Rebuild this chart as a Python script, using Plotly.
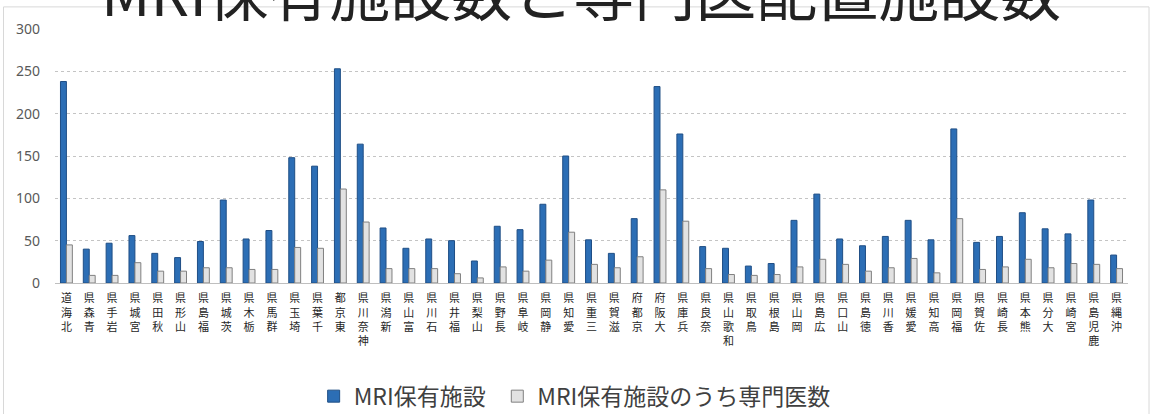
import plotly.graph_objects as go

prefectures = ["北海道", "青森県", "岩手県", "宮城県", "秋田県", "山形県", "福島県", "茨城県", "栃木県", "群馬県",
               "埼玉県", "千葉県", "東京都", "神奈川県", "新潟県", "富山県", "石川県", "福井県", "山梨県", "長野県",
               "岐阜県", "静岡県", "愛知県", "三重県", "滋賀県", "京都府", "大阪府", "兵庫県", "奈良県", "和歌山県",
               "鳥取県", "島根県", "岡山県", "広島県", "山口県", "徳島県", "香川県", "愛媛県", "高知県", "福岡県",
               "佐賀県", "長崎県", "熊本県", "大分県", "宮崎県", "鹿児島県", "沖縄県"]

mri_facilities = [238, 40, 47, 56, 35, 30, 49, 98, 52, 62,
                  148, 138, 253, 164, 65, 41, 52, 50, 26, 67,
                  63, 93, 150, 51, 35, 76, 232, 176, 43, 41,
                  20, 23, 74, 105, 52, 44, 55, 74, 51, 182,
                  48, 55, 83, 64, 58, 98, 33]

specialist = [45, 9, 9, 24, 14, 14, 18, 18, 16, 16,
              42, 41, 111, 72, 17, 17, 17, 11, 6, 19,
              14, 27, 60, 22, 18, 31, 110, 73, 17, 10,
              9, 10, 19, 28, 22, 14, 18, 29, 12, 76,
              16, 19, 28, 18, 23, 22, 17]

y_ticks = [0, 50, 100, 150, 200, 250, 300]
title_text = "MRI保有施設数と専門医配置施設数"
series_names = ["MRI保有施設", "MRI保有施設のうち専門医数"]

# stacked upright characters, reading bottom-to-top
tick_text = ["<br>".join(reversed(list(p))) for p in prefectures]

fig = go.Figure()
fig.add_trace(go.Bar(x=prefectures, y=mri_facilities, name=series_names[0], legend="legend",
                     marker=dict(color="#2C6EB5", line=dict(color="#1F4E85", width=1))))
fig.add_trace(go.Bar(x=prefectures, y=specialist, name=series_names[1], legend="legend2",
                     marker=dict(color="#E2E2E2", line=dict(color="#808080", width=1))))

legend_common = dict(orientation="h", xref="container", yref="container",
                     xanchor="left", y=0.043, yanchor="middle",
                     font=dict(size=23, color="#404040", family="Noto Sans CJK JP"),
                     bgcolor="rgba(0,0,0,0)")

fig.update_layout(
    width=1166, height=414,
    margin=dict(l=55, r=38, t=29, b=131),
    paper_bgcolor="white", plot_bgcolor="white",
    barmode="group", bargap=0.48, bargroupgap=0,
    font=dict(family="Noto Sans CJK JP", color="#404040"),
    showlegend=True,
    legend=dict(x=0.269, **legend_common),
    legend2=dict(x=0.4265, **legend_common),
    xaxis=dict(tickmode="array", tickvals=prefectures, ticktext=tick_text, tickangle=0,
               tickfont=dict(size=11, color="#262626", family="Noto Sans CJK JP"),
               showline=True, linecolor="#BFBFBF", linewidth=1, showgrid=False,
               ticks="", ticklabelstandoff=5, automargin=False),
    yaxis=dict(range=[0, 300], tickvals=y_ticks, showgrid=True, gridcolor="#C4C4C4", gridwidth=1,
               griddash="dot", zeroline=False, showline=False,
               tickfont=dict(size=14, color="#595959", family="Noto Sans"),
               ticklabelstandoff=14, automargin=False),
    annotations=[dict(text=title_text, xref="paper", yref="paper", x=0.49, y=1.155,
                      xanchor="center", yanchor="middle", showarrow=False,
                      font=dict(size=61, color="#222222", family="Noto Sans CJK JP"))],
    shapes=[dict(type="rect", xref="paper", yref="paper", x0=-0.048, x1=1.0196,
                 y0=-0.56, y1=1.087, line=dict(color="#D8D8D8", width=1), layer="below")],
)

fig.write_html("out.html")
